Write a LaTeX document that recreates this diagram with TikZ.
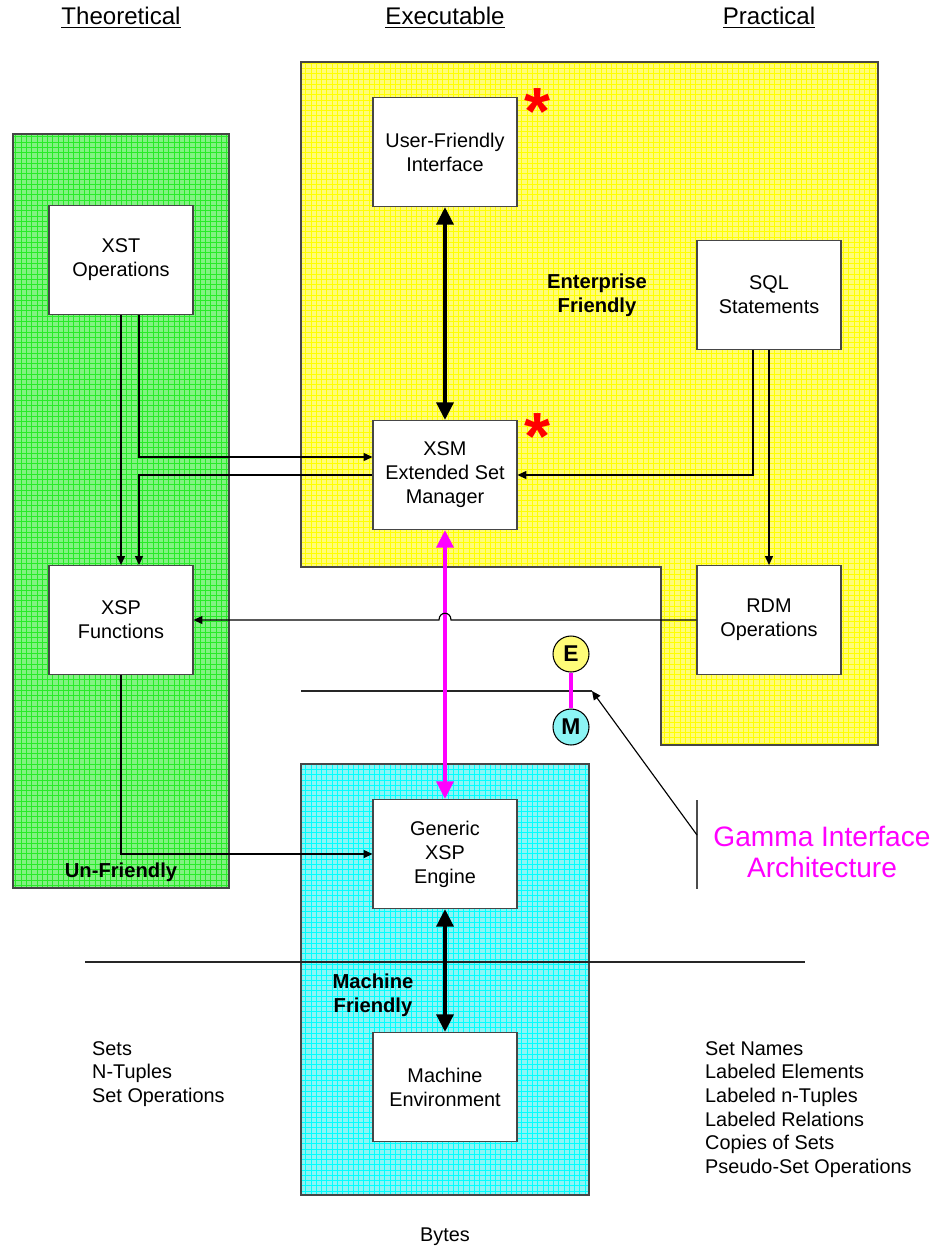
\documentclass[tikz,border=0pt]{standalone}
\usepackage{fontspec}
\setmainfont{Liberation Sans}
\usetikzlibrary{arrows.meta,calc,patterns}
\definecolor{yelbase}{RGB}{255,252,120}
\definecolor{grnbase}{RGB}{130,242,130}
\definecolor{cynbase}{RGB}{140,245,245}
\definecolor{grngrid}{RGB}{40,235,40}
\definecolor{edge}{RGB}{70,70,70}
\definecolor{gammapink}{RGB}{255,0,255}

\begin{document}
\begin{tikzpicture}[x=0.02cm, y=-0.02cm,
    box/.style={draw=edge, fill=white, line width=0.6pt, minimum width=2.88cm,
      minimum height=2.18cm, align=center, font=\fontsize{11.3}{13.6}\selectfont},
    region/.style={draw=edge, line width=0.8pt},
    lbl/.style={align=center, font=\fontsize{11.5}{13.6}\selectfont\bfseries},
    head/.style={font=\fontsize{13.7}{16}\selectfont},
    txt/.style={anchor=north west, align=left, font=\fontsize{11.3}{13.5}\selectfont},
    thinarrow/.style={draw=black, line width=0.65pt, -{Triangle[length=5pt,width=4.5pt]}},
    bigarrow/.style={line width=2.3pt, {Triangle[length=10pt,width=9.5pt]}-{Triangle[length=10pt,width=9.5pt]}},
    redstar/.style={anchor=base, text=red, font=\fontsize{38}{38}\selectfont\bfseries},
    emdot/.style={circle, draw=black, line width=0.6pt, minimum size=0.72cm, inner sep=0pt,
      font=\fontsize{13}{13}\selectfont\bfseries}]
  \useasboundingbox (0,0) rectangle (935,1249);
  \path [region, preaction={fill=grnbase}, pattern=grid, pattern color=grngrid]
    (13,134) rectangle (229,888);
  \path [region, preaction={fill=yelbase}, pattern=grid, pattern color=yellow]
    (301,62) -- (878,62) -- (878,745) -- (661,745) -- (661,567) -- (301,567) -- cycle;
  \path [region, preaction={fill=cynbase}, pattern=grid, pattern color=cyan]
    (301,764) rectangle (589,1195);
  \node[head] (th) at (121,18) {\underline{Theoretical}};
  \node[head] (ex) at (445,18) {\underline{Executable}};
  \node[head] (pr) at (769,18) {\underline{Practical}};
  \node[lbl] (ef) at (597,295) {Enterprise\\Friendly};
  \node[lbl] (mf) at (373,995) {Machine\\Friendly};
  \node[lbl] (uf) at (121,872) {Un-Friendly};
  \node[box] (ufi) at (445,152) {User-Friendly\\Interface};
  \node[box] (xst) at (121,260) {XST\\Operations};
  \node[box] (sql) at (769,295) {SQL\\Statements};
  \node[box] (xsm) at (445,475) {XSM\\Extended Set\\Manager};
  \node[box] (xsp) at (121,620) {XSP\\Functions};
  \node[box] (rdm) at (769,620) {RDM\\Operations};
  \node[box] (gen) at (445,854) {Generic\\XSP\\Engine};
  \node[box] (mach) at (445,1087) {Machine\\Environment};
  \node[redstar] (s1) at (537,134) {*};
  \node[redstar] (s2) at (537,459) {*};
  \coordinate (ga) at (301,691);
  \coordinate (gb) at (592,691);
  \coordinate (bt) at (697,800);
  \coordinate (bm) at (697,835);
  \coordinate (bb) at (697,889);
  \coordinate (la) at (85,962);
  \coordinate (lb) at (805,962);
  \draw [draw=black!85, line width=0.7pt] (ga) -- (gb);
  \draw [draw=black!85, line width=0.7pt] (la) -- (lb);
  \draw [draw=black!70, line width=0.7pt] (bt) -- (bb);
  \draw [thinarrow] (bm) -- (gb);
  \draw [thinarrow] (xst.south) -- (xsp.north);
  \draw [thinarrow] ($(xst.south)+(18,0)$) |- ($(xsm.west)+(0,-18)$);
  \draw [thinarrow] (xsm.west) -| ($(xsp.north)+(18,0)$);
  \draw [thinarrow] ($(sql.south)+(-16,0)$) |- (xsm.east);
  \draw [thinarrow] (sql) -- (rdm);
  \draw [thinarrow] (xsp.south) |- (gen.west);
  \draw [bigarrow] (ufi) -- (xsm);
  \draw [bigarrow, gammapink] (xsm) -- (gen);
  \draw [bigarrow] (gen) -- (mach);
  \draw [thinarrow] (rdm.west) -- (451,620) .. controls (451,611) and (439,611) .. (439,620) -- (xsp.east);
  \node[emdot, fill=yelbase] (e) at (571,654) {E};
  \node[emdot, fill=cynbase] (m) at (571,727) {M};
  \draw [gammapink, line width=2.3pt] (e) -- (m);
  \node[align=center, text=gammapink, font=\fontsize{16}{18}\selectfont] (gia) at (822,852)
    {Gamma Interface\\Architecture};
  \node[txt] (sets) at (86,1035) {Sets\\N-Tuples\\Set Operations};
  \node[txt] (names) at (699,1035) {Set Names\\Labeled Elements\\Labeled n-Tuples\\Labeled Relations\\Copies of Sets\\Pseudo-Set Operations};
  \node[font=\fontsize{11.3}{13.6}\selectfont] (bytes) at (445,1237) {Bytes};
\end{tikzpicture}
\end{document}
